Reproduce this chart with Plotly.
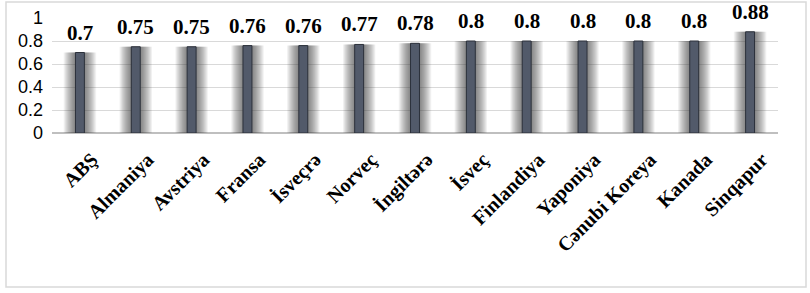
import plotly.graph_objects as go

countries = ["ABŞ", "Almaniya", "Avstriya", "Fransa", "İsveçrə", "Norveç", "İngiltərə",
             "İsveç", "Finlandiya", "Yaponiya", "Cənubi Koreya", "Kanada", "Sinqapur"]
values = [0.7, 0.75, 0.75, 0.76, 0.76, 0.77, 0.78, 0.8, 0.8, 0.8, 0.8, 0.8, 0.88]
value_labels = ["0.7", "0.75", "0.75", "0.76", "0.76", "0.77", "0.78", "0.8", "0.8", "0.8", "0.8", "0.8", "0.88"]
y_ticks = [0, 0.2, 0.4, 0.6, 0.8, 1]
y_tick_labels = ["0", "0.2", "0.4", "0.6", "0.8", "1"]

W, H = 810, 293
L, R, T, B = 52, 32, 18, 160

fig = go.Figure()

# soft shadow layers behind each bar (blur imitation)
n_layers = 12
for i in range(n_layers):
    w = 0.58 - i * (0.58 - 0.17) / (n_layers - 1)
    fig.add_trace(go.Bar(x=countries, y=values, width=w,
                         marker=dict(color="rgba(50,50,50,0.065)", line=dict(width=0)),
                         hoverinfo="skip", showlegend=False))

fig.add_trace(go.Bar(x=countries, y=values, width=0.16,
                     marker=dict(color="#525a6a", line=dict(color="#2c313b", width=1)),
                     showlegend=False))

for c, v, t in zip(countries, values, value_labels):
    fig.add_annotation(x=c, y=v, text=t, showarrow=False, yshift=20,
                       font=dict(family="Liberation Serif", size=21, color="#000000", weight="bold"),
                       xanchor="center", yanchor="middle")

pw = W - L - R
ph = H - T - B
fig.add_shape(type="rect", xref="paper", yref="paper",
              x0=(6 - L) / pw, x1=(806 - L) / pw,
              y0=(H - B - 287) / ph, y1=(H - B - 2) / ph,
              line=dict(color="#d9d9d9", width=1.5), fillcolor="rgba(0,0,0,0)", layer="below")

fig.update_layout(
    width=W, height=H,
    margin=dict(l=L, r=R, t=T, b=B),
    barmode="overlay",
    plot_bgcolor="white", paper_bgcolor="white",
    xaxis=dict(tickangle=-45, showgrid=False, showline=False, ticks="", automargin=False,
               ticklabelshift=12, ticklabelstandoff=10,
               tickfont=dict(family="Liberation Serif", size=20, color="#000000", weight="bold")),
    yaxis=dict(range=[0, 1], tickvals=y_ticks, ticktext=y_tick_labels, automargin=False,
               showgrid=True, gridcolor="#d9d9d9", gridwidth=1,
               zeroline=True, zerolinecolor="#bfbfbf", zerolinewidth=2,
               ticks="", ticklabelstandoff=8,
               tickfont=dict(family="Liberation Sans", size=18, color="#000000")),
)

fig.write_html("out.html", config={"displayModeBar": False},
               post_script="document.body.style.margin='0';")
